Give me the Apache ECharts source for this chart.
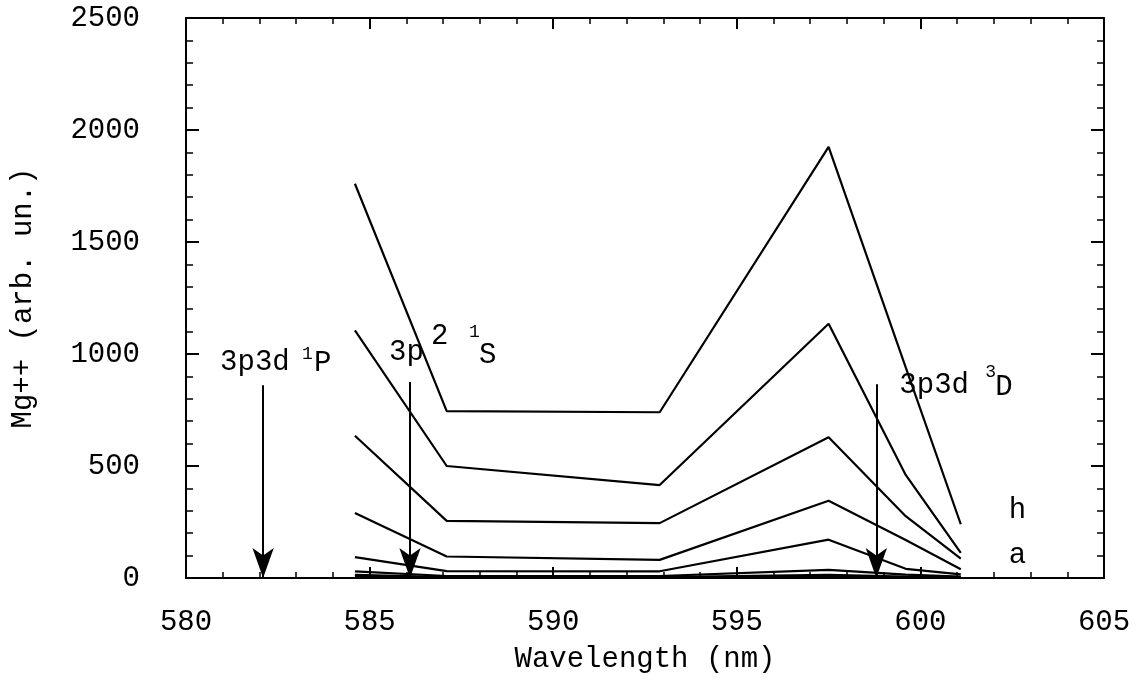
<!DOCTYPE html>
<html>
<head>
<meta charset="utf-8">
<script src="https://cdn.jsdelivr.net/npm/echarts@6/dist/echarts.min.js"></script>
<style>
html, body { margin: 0; padding: 0; background: #fff; }
#chart { width: 1143px; height: 679px; }
</style>
</head>
<body>
<div id="chart"></div>
<script>
// wavelength grid (nm) shared by all curves
var wavelengths = [584.6, 587.1, 592.9, 597.5, 599.6, 601.1];

// Mg++ signal, one curve per label, h on top down to a
var curveH = [1760, 745, 740, 1925, 940, 240];
var curveG = [1105, 500, 415, 1135, 460, 112];
var curveF = [635, 255, 245, 628, 276, 87];
var curveE = [290, 96, 81, 345, 170, 39];
var curveD = [93, 31, 30, 171, 41, 16];
var curveC = [30, 9, 9, 36, 15, 6];
var curveB = [14, 4, 4, 14, 6, 3];
var curveA = [6, 2, 2, 6, 3, 1];
var curveNames = ['h', 'g', 'f', 'e', 'd', 'c', 'b', 'a'];
var curves = [curveH, curveG, curveF, curveE, curveD, curveC, curveB, curveA];

// transition markers (arrows)
var lineNames = ['3p3d 1P', '3p2 1S', '3p3d 3D'];
var lineWavelengths = [582.1, 586.1, 598.8];
var arrowTops = [860, 875, 865];

var FONT = '"Liberation Mono", "Courier New", monospace';
var black = '#000';

var chart = echarts.init(document.getElementById('chart'));

function mkX(pos, labels) {
    return {
        type: 'value',
        position: pos,
        min: 580,
        max: 605,
        interval: 5,
        axisLine: { show: true, onZero: false, lineStyle: { color: black, width: 2 } },
        axisTick: { show: true, inside: true, length: 11, lineStyle: { color: black, width: 2 } },
        minorTick: { show: true, splitNumber: 5, length: 6, lineStyle: { color: black, width: 1.5 } },
        splitLine: { show: false },
        axisLabel: {
            show: labels,
            color: black,
            fontFamily: FONT,
            fontSize: 29,
            margin: 30,
            showMinLabel: true,
            showMaxLabel: true,
            formatter: function (v) { return String(v); }
        }
    };
}

function mkY(pos, labels) {
    return {
        type: 'value',
        position: pos,
        min: 0,
        max: 2500,
        interval: 500,
        axisLine: { show: true, onZero: false, lineStyle: { color: black, width: 2 } },
        axisTick: { show: true, inside: true, length: 13, lineStyle: { color: black, width: 2 } },
        minorTick: { show: true, splitNumber: 5, length: 7, lineStyle: { color: black, width: 1.5 } },
        splitLine: { show: false },
        axisLabel: {
            show: labels,
            color: black,
            fontFamily: FONT,
            fontSize: 29,
            margin: 46,
            showMinLabel: true,
            showMaxLabel: true,
            formatter: function (v) { return String(v); }
        }
    };
}

var xBottom = mkX('bottom', true);
xBottom.name = 'Wavelength (nm)';
xBottom.nameLocation = 'middle';
xBottom.nameGap = 67;
xBottom.nameTextStyle = { color: black, fontFamily: FONT, fontSize: 29 };

var yLeft = mkY('left', true);
yLeft.name = 'Mg++ (arb. un.)';
yLeft.nameLocation = 'middle';
yLeft.nameRotate = 90;
yLeft.nameGap = 148;
yLeft.nameTextStyle = { color: black, fontFamily: FONT, fontSize: 29 };

var series = curves.map(function (vals, i) {
    return {
        name: curveNames[i],
        type: 'line',
        xAxisIndex: 0,
        yAxisIndex: 0,
        data: vals.map(function (v, j) { return [wavelengths[j], v]; }),
        symbol: 'none',
        silent: true,
        lineStyle: { color: black, width: 2.2 },
        z: 3
    };
});

// arrows hang on the first curve as a markLine
series[0].markLine = {
    silent: true,
    symbol: ['none', 'arrow'],
    symbolSize: [16, 30],
    lineStyle: { color: black, width: 2, type: 'solid' },
    label: { show: false },
    emphasis: { disabled: true },
    data: lineWavelengths.map(function (w, i) {
        return [{ coord: [w, arrowTops[i]] }, { coord: [w, 0] }];
    })
};

chart.setOption({
    animation: false,
    backgroundColor: '#fff',
    grid: { left: 186, right: 39, top: 18, bottom: 99 },
    xAxis: [xBottom, mkX('top', false)],
    yAxis: [yLeft, mkY('right', false)],
    series: series
});

// text annotations, placed relative to the arrow tops
function px(x, y) {
    return chart.convertToPixel({ xAxisIndex: 0, yAxisIndex: 0 }, [x, y]);
}
function txt(x, y, s, size) {
    return {
        type: 'text',
        x: x,
        y: y,
        silent: true,
        style: {
            text: s,
            fill: black,
            fontFamily: FONT,
            fontSize: size,
            align: 'left',
            verticalAlign: 'middle'
        }
    };
}

var g = [];
var a1 = px(lineWavelengths[0], arrowTops[0]);
g.push(txt(a1[0] - 43, a1[1] - 23, '3p3d', 29));
g.push(txt(a1[0] + 39, a1[1] - 31, '1', 18));
g.push(txt(a1[0] + 51, a1[1] - 22, 'P', 29));

var a2 = px(lineWavelengths[1], arrowTops[1]);
g.push(txt(a2[0] - 21, a2[1] - 30, '3p', 29));
g.push(txt(a2[0] + 21, a2[1] - 46, '2', 29));
g.push(txt(a2[0] + 59, a2[1] - 50, '1', 18));
g.push(txt(a2[0] + 69, a2[1] - 27, 'S', 29));

var a3 = px(lineWavelengths[2], arrowTops[2]);
g.push(txt(a3[0] + 23, a3[1] + 1, '3p3d', 29));
g.push(txt(a3[0] + 109, a3[1] - 12, '3', 18));
g.push(txt(a3[0] + 119, a3[1] + 3, 'D', 29));

var ph = px(602.65, 300);
g.push(txt(ph[0] - 9, ph[1], 'h', 29));
var pa = px(602.65, 100);
g.push(txt(pa[0] - 9, pa[1], 'a', 29));

chart.setOption({ graphic: g });
</script>
</body>
</html>
